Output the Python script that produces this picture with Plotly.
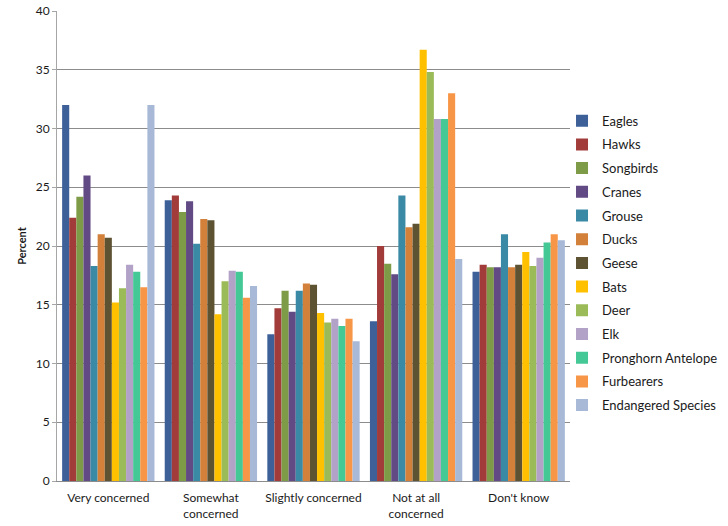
import plotly.graph_objects as go

categories = ["Very concerned", "Somewhat<br>concerned", "Slightly concerned", "Not at all<br>concerned", "Don't know"]
species = ["Eagles", "Hawks", "Songbirds", "Cranes", "Grouse", "Ducks", "Geese", "Bats",
           "Deer", "Elk", "Pronghorn Antelope", "Furbearers", "Endangered Species"]
colors = ["#3D6098", "#A23C3A", "#7E9B47", "#624A84", "#3A8AA6", "#D3803A", "#5D5232",
          "#FFC000", "#9BBB59", "#B3A2C7", "#44C896", "#F79646", "#A8B9D8"]

eagles = [32.0, 23.9, 12.5, 13.6, 17.8]
hawks = [22.4, 24.3, 14.7, 20.0, 18.4]
songbirds = [24.2, 22.9, 16.2, 18.5, 18.2]
cranes = [26.0, 23.8, 14.4, 17.6, 18.2]
grouse = [18.3, 20.2, 16.2, 24.3, 21.0]
ducks = [21.0, 22.3, 16.8, 21.6, 18.2]
geese = [20.7, 22.2, 16.7, 21.9, 18.4]
bats = [15.2, 14.2, 14.3, 36.7, 19.5]
deer = [16.4, 17.0, 13.5, 34.8, 18.3]
elk = [18.4, 17.9, 13.8, 30.8, 19.0]
pronghorn = [17.8, 17.8, 13.2, 30.8, 20.3]
furbearers = [16.5, 15.6, 13.8, 33.0, 21.0]
endangered = [32.0, 16.6, 11.9, 18.9, 20.5]

series = [eagles, hawks, songbirds, cranes, grouse, ducks, geese, bats, deer, elk,
          pronghorn, furbearers, endangered]

fig = go.Figure()
for name, vals, col in zip(species, series, colors):
    fig.add_trace(go.Bar(name=name, x=categories, y=vals, marker_color=col,
                         marker_line_width=0, legendgroup=name))

font = "Lato, Open Sans, sans-serif"
fig.update_layout(
    width=728, height=526,
    paper_bgcolor="white", plot_bgcolor="white",
    margin=dict(l=57, r=158, t=11, b=45, autoexpand=False),
    barmode="group", bargap=0.1, bargroupgap=0,
    font=dict(family=font, size=12, color="#1a1a1a"),
    legend=dict(x=0.772, xref="container", y=0.799, yref="container",
                xanchor="left", yanchor="top", traceorder="grouped",
                tracegroupgap=3.8, font=dict(size=13, color="#1a1a1a"),
                itemwidth=30, bgcolor="rgba(0,0,0,0)", maxheight=600),
    showlegend=True,
)
fig.update_yaxes(range=[0, 40], dtick=5, showgrid=True, gridcolor="#8c8c8c", gridwidth=1,
                 showline=True, linecolor="#a6a6a6", ticks="outside", ticklen=4,
                 tickcolor="#a6a6a6", zeroline=False, automargin=False,
                 title=dict(text="<b>Percent</b>", font=dict(size=11), standoff=6),
                 tickfont=dict(size=12))
fig.update_xaxes(showline=True, linecolor="#8c8c8c", ticks="outside", ticklen=6,
                 tickcolor="rgba(0,0,0,0)", automargin=False, tickfont=dict(size=12))

fig.write_html("out.html", config={"displayModeBar": False},
               post_script="document.body.style.margin='0';document.body.style.overflow='hidden';")
